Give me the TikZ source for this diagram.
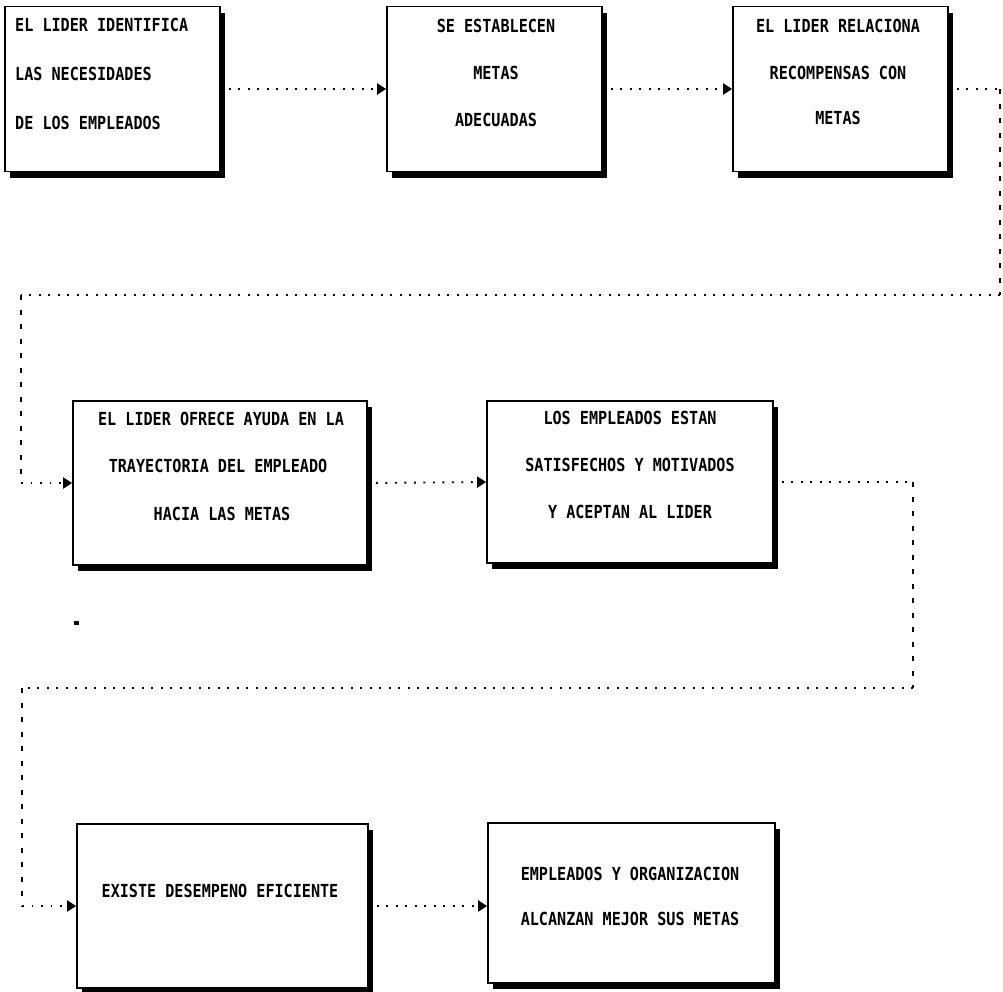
\documentclass[tikz,border=0pt]{standalone}
\usepackage{fontspec}
\newfontfamily\boxfont{DejaVu Sans Mono}[FakeStretch=0.84]
\usetikzlibrary{arrows.meta,shadows}
\tikzset{
  box/.style={draw, line width=1.7pt, fill=white, rectangle, inner sep=0pt,
    drop shadow={shadow xshift=5pt, shadow yshift=-6pt, fill=black, opacity=1}},
  lbl/.style={font=\boxfont\bfseries\fontsize{18}{21}\selectfont, inner sep=0pt},
  hdot/.style={line width=1.9pt, dash pattern=on 1.9pt off 7.6pt},
  vdash/.style={line width=1.7pt, dash pattern=on 5pt off 9.5pt},
  tip/.style={-{Triangle[length=9pt,width=11pt]}}
}
\begin{document}
\begin{tikzpicture}[x=1pt,y=-1pt]
\useasboundingbox (0,0) rectangle (1003,991);
\fill[white] (0,0) rectangle (1003,991);
% boxes
\node[box, minimum width=215pt, minimum height=165pt] (b1) at (112.5,89) {};
\node[box, minimum width=215pt, minimum height=165pt] (b2) at (494.5,89) {};
\node[box, minimum width=215pt, minimum height=165pt] (b3) at (840.5,89) {};
\node[box, minimum width=294pt, minimum height=164pt] (b4) at (220,483) {};
\node[box, minimum width=286pt, minimum height=162pt] (b5) at (630,482) {};
\node[box, minimum width=291pt, minimum height=164pt] (b6) at (222.5,906) {};
\node[box, minimum width=287pt, minimum height=160pt] (b7) at (631.5,903) {};
% texts
\node[lbl, anchor=mid west] (t1a) at (15,29) {EL LIDER IDENTIFICA};
\node[lbl, anchor=mid west] (t1b) at (15,78) {LAS NECESIDADES};
\node[lbl, anchor=mid west] (t1c) at (15,127) {DE LOS EMPLEADOS};
\node[lbl, anchor=mid] (t2a) at (496,30) {SE ESTABLECEN};
\node[lbl, anchor=mid] (t2b) at (496,77) {METAS};
\node[lbl, anchor=mid] (t2c) at (496,124) {ADECUADAS};
\node[lbl, anchor=mid] (t3a) at (838,30) {EL LIDER RELACIONA};
\node[lbl, anchor=mid] (t3b) at (838,77) {RECOMPENSAS CON};
\node[lbl, anchor=mid] (t3c) at (838,122) {METAS};
\node[lbl, anchor=mid] (t4a) at (221,423) {EL LIDER OFRECE AYUDA EN LA};
\node[lbl, anchor=mid] (t4b) at (218,470) {TRAYECTORIA DEL EMPLEADO};
\node[lbl, anchor=mid] (t4c) at (222,518) {HACIA LAS METAS};
\node[lbl, anchor=mid] (t5a) at (630,422) {LOS EMPLEADOS ESTAN};
\node[lbl, anchor=mid] (t5b) at (630,469) {SATISFECHOS Y MOTIVADOS};
\node[lbl, anchor=mid] (t5c) at (630,516) {Y ACEPTAN AL LIDER};
\node[lbl, anchor=mid] (t6a) at (220,895) {EXISTE DESEMPENO EFICIENTE};
\node[lbl, anchor=mid] (t7a) at (630,878) {EMPLEADOS Y ORGANIZACION};
\node[lbl, anchor=mid] (t7b) at (630,923) {ALCANZAN MEJOR SUS METAS};
% corner coordinates
\coordinate (c1) at (1000,295);
\coordinate (c2) at (21,295);
\coordinate (c3) at (913,688);
\coordinate (c4) at (22,688);
% connectors
\draw[hdot, tip, shorten <=8pt] (b1.east) -- (b2.west);
\draw[hdot, tip, shorten <=8pt] (b2.east) -- (b3.west);
\draw[hdot, shorten <=8pt] (b3.east) -- (b3.east -| c1);
\draw[vdash] (b3.east -| c1) -- (c1);
\draw[hdot] (c1) -- (c2);
\draw[vdash] (c2) -- (c2 |- b4.west);
\draw[hdot, tip] (c2 |- b4.west) -- (b4.west);
\draw[hdot, tip, shorten <=8pt] (b4.east) -- (b5.west);
\draw[hdot, shorten <=8pt] (b5.east) -- (b5.east -| c3);
\draw[vdash] (b5.east -| c3) -- (c3);
\draw[hdot] (c3) -- (c4);
\draw[vdash] (c4) -- (c4 |- b6.west);
\draw[hdot, tip] (c4 |- b6.west) -- (b6.west);
\draw[hdot, tip, shorten <=8pt] (b6.east) -- (b6.east -| b7.west);
% stray mark
\fill (74,621) rectangle (79,625);
\end{tikzpicture}
\end{document}
